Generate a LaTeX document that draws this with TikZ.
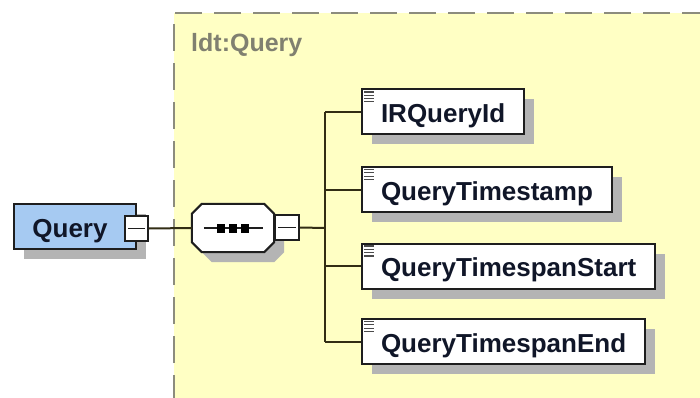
\documentclass[tikz,border=0pt]{standalone}
\usepackage{fontspec}
\setmainfont{Liberation Sans}
\usetikzlibrary{calc,shadows}

\definecolor{bgyellow}{RGB}{255,255,196}
\definecolor{qblue}{RGB}{166,202,242}
\definecolor{shadgray}{RGB}{180,180,180}
\definecolor{edgec}{RGB}{30,30,30}
\definecolor{busc}{RGB}{50,45,20}
\definecolor{txtc}{RGB}{16,22,40}
\definecolor{dashc}{RGB}{140,140,125}
\definecolor{labc}{RGB}{128,128,112}

\begin{document}
\begin{tikzpicture}[x=1pt,y=-1pt,
  dshadow/.style={drop shadow={shadow xshift=10pt,shadow yshift=-10pt,fill=shadgray,opacity=1}},
  elem/.style={draw=edgec,line width=2pt,fill=white,dshadow,rectangle,
    inner xsep=19pt,inner ysep=0pt,minimum height=45pt,text height=21pt,text depth=0pt,
    font=\bfseries\fontsize{26}{26}\selectfont,text=txtc,anchor=west},
  minusbox/.style={draw=edgec,line width=1.8pt,fill=white,rectangle,inner sep=0pt,
    minimum width=23pt,minimum height=25pt},
  minusbar/.style={draw=edgec,line width=1.8pt},
  conn/.style={draw=busc,line width=2pt},
  iconline/.style={draw=edgec!80,line width=1.2pt}
]
\useasboundingbox (0,0) rectangle (700,398);
\fill[white] (0,0) rectangle (700,398);
% type region
\fill[bgyellow] (174,13) rectangle (704,402);
\draw[dashc,line width=2pt,dash pattern=on 27pt off 12pt] (174,402) -- (174,13) -- (704,13);
\node[anchor=base west,inner sep=0pt,font=\bfseries\fontsize{25}{25}\selectfont,text=labc] (typelabel) at (191,52) {ldt:Query};

% root element
\node[draw=edgec,line width=2pt,fill=qblue,dshadow,rectangle,inner sep=0pt,
  minimum width=122pt,minimum height=45pt,text height=21pt,text depth=0pt,
  font=\bfseries\fontsize{26}{26}\selectfont,text=txtc] (query) at (75,226.5) {\hspace*{-10pt}Query};
\node[minusbox] (qminus) at (136.5,228.5) {};
\draw[minusbar] ($(qminus.west)+(4,0)$) -- ($(qminus.east)+(-4,0)$);

% sequence compositor
\node[rectangle,inner sep=0pt,minimum width=82pt,minimum height=48pt] (seq) at (233,228) {};
\path[draw=edgec,line width=2pt,fill=white,dshadow]
  ($(seq.north west)+(10,0)$) -- ($(seq.north east)+(-10,0)$) -- ($(seq.north east)+(0,10)$)
  -- ($(seq.south east)+(0,-10)$) -- ($(seq.south east)+(-10,0)$) -- ($(seq.south west)+(10,0)$)
  -- ($(seq.south west)+(0,-10)$) -- ($(seq.north west)+(0,10)$) -- cycle;
\draw[edgec,line width=1.8pt] ($(seq.west)+(12,0)$) -- ($(seq.east)+(-11,0)$);
\foreach \cx in {221,232.5,244.5}{
  \fill[black] (\cx-4,223.5) rectangle (\cx+4,232.5);
}
\node[minusbox,minimum width=24pt] (sminus) at (287,227.5) {};
\draw[minusbar] ($(sminus.west)+(4,0)$) -- ($(sminus.east)+(-4,0)$);

\coordinate (bus) at (325,228);

% children
\node[elem] (c1) at (361,112) {IRQueryId};
\node[elem] (c2) at (361,189.5) {QueryTimestamp};
\node[elem] (c3) at (361,266) {QueryTimespanStart};
\node[elem] (c4) at (361,341.5) {QueryTimespanEnd};

\foreach \c in {c1,c2,c3,c4}{
  \foreach \k in {0,1,2,3}{
    \draw[iconline] ($(\c.north west)+(3,3.5+3.3*\k)$) -- ($(\c.north west)+(13,3.5+3.3*\k)$);
  }
}

% connectors
\draw[conn] (qminus.east) -- (seq.west);
\draw[conn] (sminus.east) -- (bus);
\draw[conn] (bus |- c1.west) -- (bus |- c4.west);
\foreach \c in {c1,c2,c3,c4}{
  \draw[conn] (bus |- \c.west) -- (\c.west);
}
\end{tikzpicture}
\end{document}
